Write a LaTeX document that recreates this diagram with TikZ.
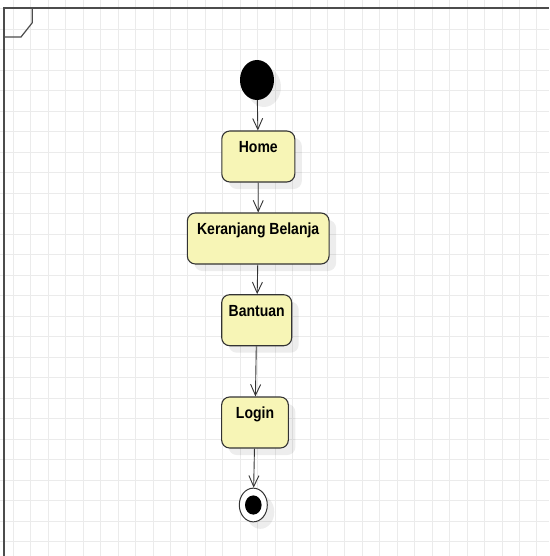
\documentclass[tikz,border=0pt]{standalone}
\usepackage{fontspec}
\setmainfont{Liberation Sans}
\usepackage{xcolor}
\usetikzlibrary{arrows.meta,shapes.geometric,shadows}

\definecolor{kuning}{RGB}{247,245,182}
\definecolor{garis}{RGB}{51,51,51}
\newcommand{\tinggi}[1]{\scalebox{1}[1.15]{#1}}

\begin{document}
\begin{tikzpicture}[x=1pt,y=-1pt,
        kisi/.style={draw=black!8,line width=0.8pt},
        bingkai/.style={draw=black!70,line width=1.2pt},
        bayang/.style={drop shadow={shadow xshift=7pt,shadow yshift=-7pt,fill=black,opacity=0.07}},
        aktivitas/.style={draw=garis,line width=1.1pt,fill=kuning,rounded corners=8pt,bayang,
            font=\fontsize{14}{16}\selectfont\bfseries,inner ysep=0pt,
            text height=21.5pt,text depth=29.5pt},
        awal/.style={ellipse,fill=black,minimum width=34pt,minimum height=40pt,inner sep=0pt,bayang},
        akhir/.style={ellipse,draw=garis,line width=1pt,fill=white,minimum width=28pt,
            minimum height=33.7pt,inner sep=0pt,bayang,
            path picture={\fill[black] (path picture bounding box.center) ellipse [x radius=8.3pt,y radius=9.6pt];}},
        panah/.style={draw=garis,line width=0.9pt,-{Straight Barb[length=11pt,width=10pt]}}]
        \useasboundingbox (0,0) rectangle (549,556);
        \fill[white] (0,0) rectangle (549,556);
        % kisi latar
        \foreach \i in {0,...,31}
            \draw[kisi] ({13.3+17.45*\i},0) -- ++(0,556);
        \foreach \j in {0,...,26}
            \draw[kisi] (0,{8.8+20.5*\j}) -- ++(549,0);
        % bingkai diagram
        \draw[bingkai] (4,556) -- (4,8) -- (549,8);
        \draw[bingkai] (4,37) -- (21,37) -- (32.3,22.7) -- (32.3,8);
        % aktivitas
        \node[awal] (mulai) at (257,80) {};
        \node[aktivitas,minimum width=73pt] (home) at (258.3,156.5) {\tinggi{Home}};
        \node[aktivitas,minimum width=141.7pt] (keranjang) at (258.2,238.5) {\tinggi{Keranjang Belanja}};
        \node[aktivitas,minimum width=70pt] (bantuan) at (256.7,320.2) {\tinggi{Bantuan}};
        \node[aktivitas,minimum width=66.7pt] (login) at (255,422.5) {\tinggi{Login}};
        \node[akhir] (selesai) at (253.3,505) {};
        % alur
        \draw[panah] (mulai) -- (home);
        \draw[panah] (home) -- (keranjang);
        \draw[panah] (keranjang) -- (bantuan);
        \draw[panah] (bantuan) -- (login);
        \draw[panah] (login) -- (selesai);
    \end{tikzpicture}
\end{document}
